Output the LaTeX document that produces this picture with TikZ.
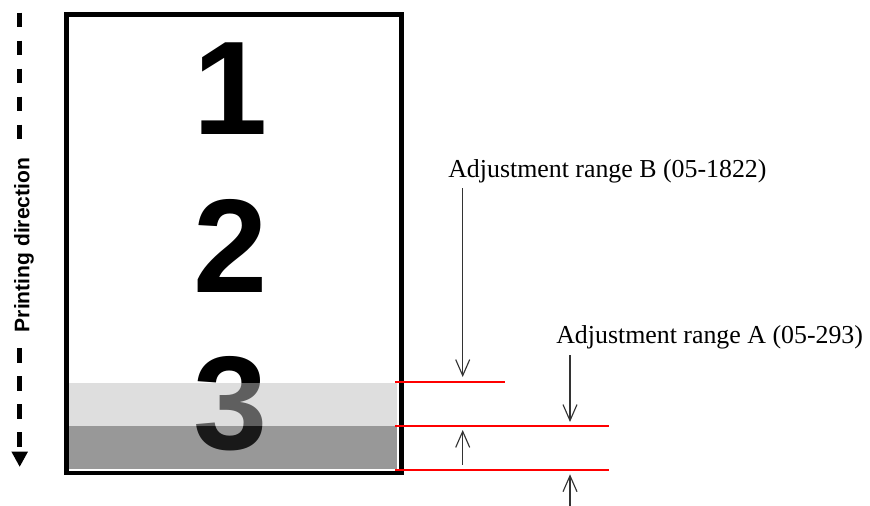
\documentclass[tikz,border=0pt]{standalone}
\usepackage{fontspec}
\setmainfont{Liberation Serif}
\newfontfamily\sansfam{Liberation Sans}
\usetikzlibrary{arrows.meta}
\definecolor{bandlight}{RGB}{190,190,190}
\definecolor{banddark}{RGB}{50,50,50}
\definecolor{arrowgray}{RGB}{51,51,51}
\definecolor{redline}{RGB}{255,0,0}
\begin{document}
\begin{tikzpicture}[x=0.75pt,y=-0.75pt,
  digit/.style={font=\sansfam\bfseries\fontsize{100}{100}\selectfont, inner sep=0pt},
  rangetext/.style={font=\fontsize{19.4}{22}\selectfont, inner sep=0pt, anchor=base west},
  dirtext/.style={font=\sansfam\bfseries\fontsize{15.8}{18}\selectfont, inner sep=0pt, rotate=90, anchor=base},
  frameline/.style={draw=black, line width=3.4pt},
  refline/.style={draw=redline, line width=1.3pt},
  dimarrow/.style={draw=arrowgray, line width=0.85pt, -{Straight Barb[length=12pt,width=10.5pt]}},
  dirline/.style={draw=black, line width=3.4pt, dash pattern=on 11pt off 10pt},
]
\useasboundingbox (0,0) rectangle (870,506);

% digits
\node[digit] (d1) at (231,88.5) {1};
\node[digit] (d2) at (231,246) {2};
\node[digit] (d3) at (231,404) {3};

% translucent bands
\fill[bandlight, fill opacity=0.5] (66,382.7) rectangle (397,426);
\fill[banddark, fill opacity=0.5] (66,426) rectangle (397,469);

% frame
\node[frameline, inner sep=0pt, minimum width=335*0.75pt, minimum height=458*0.75pt, anchor=north west] (page) at (64,12.5) {};

% red reference lines
\coordinate (r1s) at (395,382); \coordinate (r1e) at (505,382);
\coordinate (r2s) at (395,426); \coordinate (r2e) at (609,426);
\coordinate (r3s) at (395,470); \coordinate (r3e) at (609,470);
\draw[refline] (r1s) -- (r1e);
\draw[refline] (r2s) -- (r2e);
\draw[refline] (r3s) -- (r3e);

% labels
\node[rangetext] (labB) at (448,177) {Adjustment range B (05-1822)};
\node[rangetext] (labA) at (556,343.3) {Adjustment range A (05-293)};

% dimension arrows
\coordinate (bTop) at (462.7,188); \coordinate (bTip) at (462.7,377);
\coordinate (bLow) at (462.7,464.5); \coordinate (bUp) at (462.7,430);
\coordinate (aTop) at (570,355); \coordinate (aTip) at (570,422);
\coordinate (aLow) at (570,506); \coordinate (aUp) at (570,474.3);
\draw[dimarrow] (bTop) -- (bTip);
\draw[dimarrow] (bLow) -- (bUp);
\draw[dimarrow] (aTop) -- (aTip);
\draw[dimarrow] (aLow) -- (aUp);

% printing direction
\node[dirtext] (pdir) at (29.3,245) {Printing direction};
\coordinate (p1s) at (19.7,12.7); \coordinate (p1e) at (19.7,140);
\coordinate (p2s) at (19.7,348); \coordinate (p2e) at (19.7,467);
\draw[dirline] (p1s) -- (p1e);
\draw[dirline, -{Triangle[length=11.5pt,width=11.5pt]}] (p2s) -- (p2e);
\end{tikzpicture}
\end{document}
